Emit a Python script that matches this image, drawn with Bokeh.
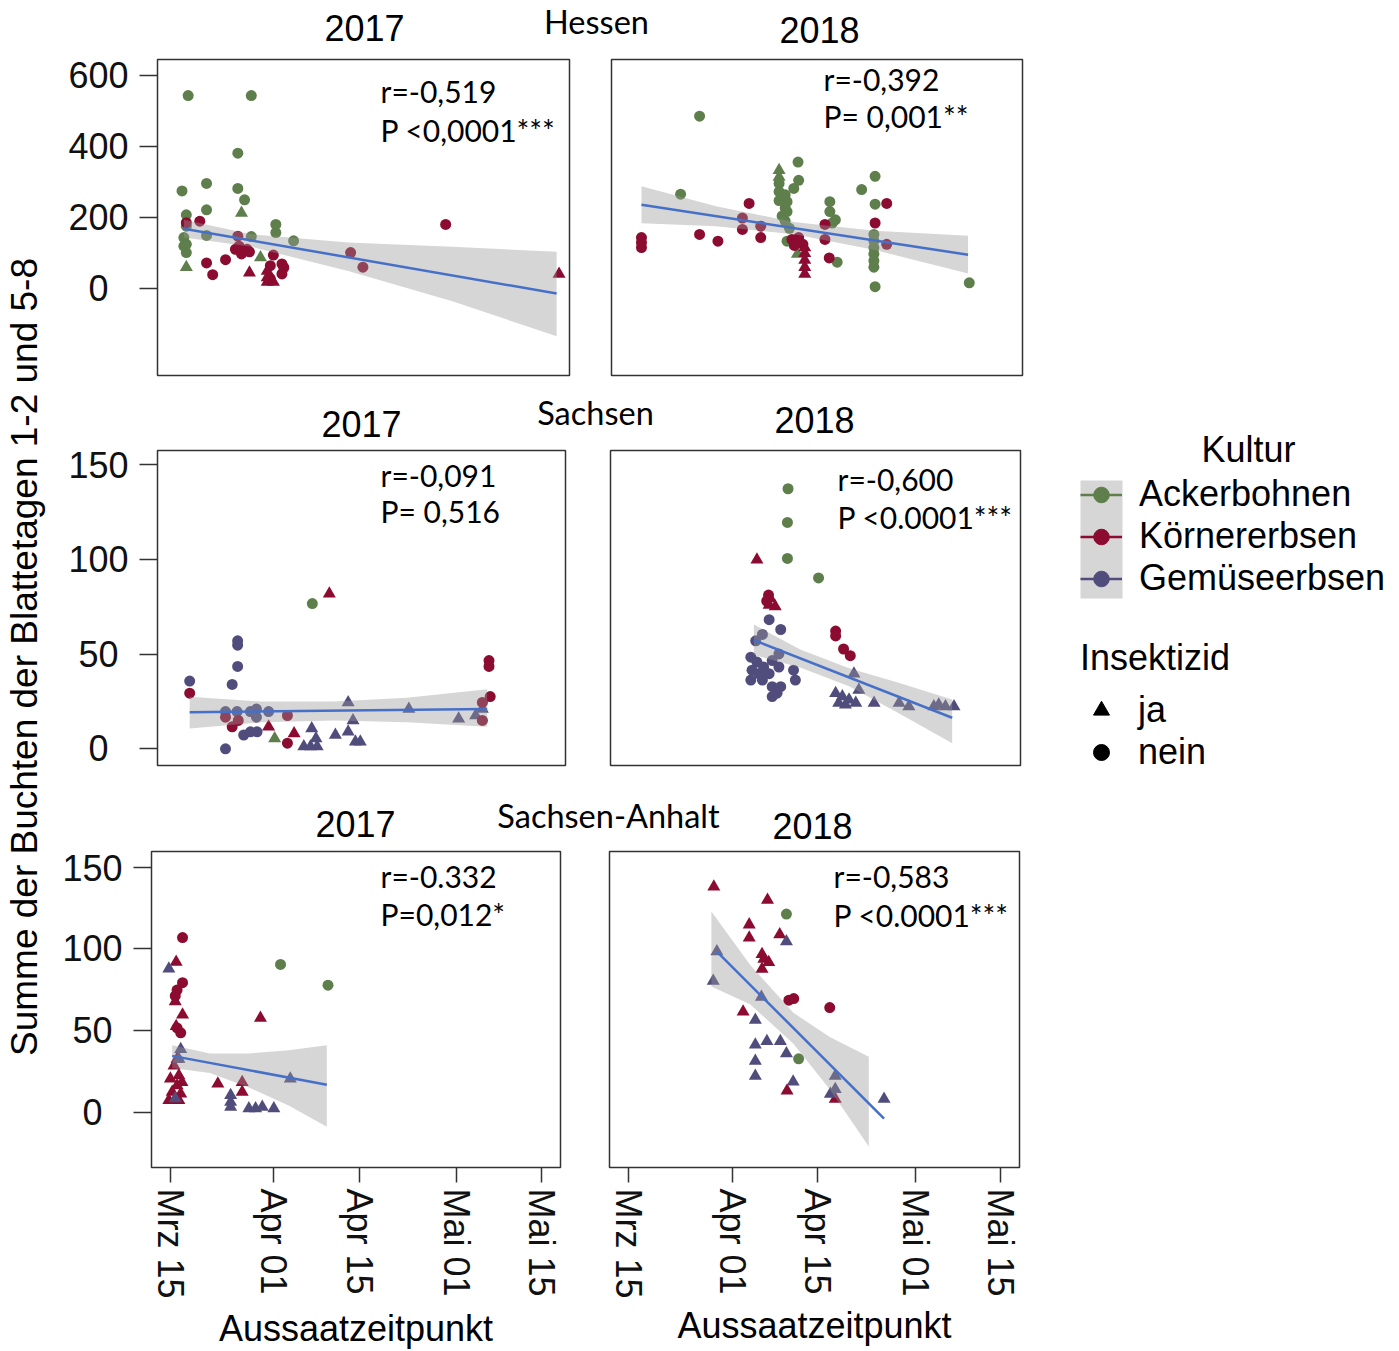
import math
from bokeh.plotting import figure
from bokeh.layouts import row, column
from bokeh.models import Range1d, FixedTicker, Legend, LegendItem, BoxAnnotation, Label, ColumnDataSource
from bokeh.embed import file_html
from bokeh.resources import INLINE

# ---------------- categories / ticks ----------------
kulturen = ["Ackerbohnen", "Körnererbsen", "Gemüseerbsen"]
insektizid = ["ja", "nein"]
x_ticks = [0, 17, 31, 47, 61]                       # days after 15 March
x_tick_labels = ["Mrz 15", "Apr 01", "Apr 15", "Mai 01", "Mai 15"]
y_ticks_hessen = [0, 200, 400, 600]
y_ticks_sachsen = [0, 50, 100, 150]
y_ticks_anhalt = [0, 50, 100, 150]

# ---------------- Hessen 2017 ----------------
he17 = [
    ("Ackerbohnen", "nein",
     [1.9, 12.2, 10.0, 0.9, 4.9, 10.0, 11.1, 4.9, 1.6, 1.6, 1.2, 1.6, 1.6, 16.2, 16.2, 19.1, 12.2, 4.9, 1.2],
     [543, 543, 381, 275, 296, 282, 250, 222, 208, 176, 144, 125, 102, 181, 158, 135, 147, 150, 120]),
    ("Ackerbohnen", "ja", [10.6, 1.6, 13.7], [213, 61, 88]),
    ("Körnererbsen", "nein",
     [3.8, 1.6, 43.9, 4.9, 5.9, 8.0, 10.0, 9.6, 11.5, 10.6, 11.9, 28.4, 30.4, 17.2, 17.2, 17.5, 15.3, 15.3, 15.8, 10.2],
     [190, 186, 181, 73, 40, 82, 148, 111, 111, 98, 104, 102, 61, 70, 42, 60, 65, 29, 95, 120]),
    ("Körnererbsen", "ja", [11.9, 62.4, 14.8, 14.8, 14.8, 15.8], [45, 42, 19, 32, 50, 19]),
]
he17_fit_x = [1.2, 62.0]
he17_fit_y = [168.6, -13.0]
he17_ci_x = [1.2, 12, 28, 45, 62.0]
he17_ci_lo = [144, 119, 50, -35, -133]
he17_ci_hi = [194, 154, 130, 118, 104]
he17_stats = ["r=-0,519", "P <0,0001***"]

# ---------------- Hessen 2018 ----------------
he18 = [
    ("Ackerbohnen", "nein",
     [11.3, 8.2, 27.4, 27.5, 26.7, 24.3, 24.3, 25.3, 25.6, 24.3, 25.3, 25.6, 32.6, 32.6, 33.5, 33.0, 37.8, 40.0,
      40.0, 39.8, 39.8, 39.8, 39.8, 39.8, 39.8, 40.0, 55.4, 25.3, 25.6, 33.8, 24.8, 26.0],
     [485, 266, 356, 305, 282, 296, 273, 264, 245, 248, 227, 217, 245, 217, 194, 185, 279, 316,
      238, 153, 135, 116, 98, 79, 61, 6, 17, 190, 134, 75, 205, 170]),
    ("Ackerbohnen", "ja", [24.3, 24.3, 27.3], [333, 314, 98]),
    ("Körnererbsen", "nein",
     [1.8, 1.8, 1.8, 11.3, 14.3, 19.4, 18.3, 18.3, 21.3, 21.3, 26.4, 27.0, 27.5, 28.2, 26.8, 31.8, 31.8, 32.5,
      40.0, 41.9, 41.9],
     [144, 130, 116, 153, 134, 240, 199, 167, 176, 144, 139, 130, 144, 125, 122, 181, 139, 87,
      185, 240, 125]),
    ("Körnererbsen", "ja", [28.5, 28.5, 28.5, 28.5, 28.5], [116, 100, 81, 61, 42]),
]
he18_fit_x = [1.8, 55.2]
he18_fit_y = [236, 96]
he18_ci_x = [1.8, 14, 27, 40, 55.2]
he18_ci_lo = [184, 176, 153, 109, 43]
he18_ci_hi = [288, 232, 187, 163, 149]
he18_stats = ["r=-0,392", "P= 0,001**"]

# ---------------- Sachsen 2017 ----------------
sa17 = [
    ("Gemüseerbsen", "nein",
     [2.2, 10.1, 10.1, 10.1, 9.2, 8.1, 8.1, 10.0, 12.2, 13.2, 15.2, 11.1, 12.2, 13.3, 13.2],
     [35.8, 57, 54.7, 43.5, 34, 0, 19.7, 19.7, 19.7, 21, 19.7, 7.3, 9, 9, 16.7]),
    ("Gemüseerbsen", "ja",
     [28.3, 29.1, 22.3, 21.0, 22.1, 23.2, 23.0, 26.2, 28.3, 29.5, 30.3, 38.3, 46.5, 49.3, 50.4],
     [24.5, 15, 10.7, 1.2, 1.2, 1.2, 5.5, 7.3, 9, 3.8, 3.8, 21, 15.9, 17.6, 21]),
    ("Körnererbsen", "nein",
     [2.2, 9.2, 8.1, 18.3, 51.5, 51.5, 51.7, 50.4, 50.4, 18.3, 10.2],
     [29.4, 11.6, 16.7, 3, 46.6, 43.5, 27.6, 24.5, 15, 17.6, 15]),
    ("Körnererbsen", "ja", [25.2, 15.2, 19.4], [81.9, 11.6, 8.1]),
    ("Ackerbohnen", "nein", [22.4], [76.7]),
    ("Ackerbohnen", "ja", [16.2], [5.5]),
]
sa17_fit_x = [2.2, 51.2]
sa17_fit_y = [19.3, 21.0]
sa17_ci_x = [2.2, 14, 26, 38, 51.2]
sa17_ci_lo = [10.7, 14, 15, 14, 11.6]
sa17_ci_hi = [27.5, 25, 25, 27, 31.4]
sa17_stats = ["r=-0,091", "P= 0,516"]

# ---------------- Sachsen 2018 ----------------
sa18 = [
    ("Ackerbohnen", "nein", [26.0, 25.9, 25.9, 31.0], [137.3, 119.5, 100.5, 90.2]),
    ("Körnererbsen", "ja", [20.9, 23.1, 22.9, 23.9], [99.8, 79.4, 76, 75.1]),
    ("Körnererbsen", "nein", [22.8, 22.5, 33.8, 33.8, 35.1, 36.2], [81.2, 78, 62.2, 59.6, 52.7, 49.2]),
    ("Gemüseerbsen", "nein",
     [22.9, 24.8, 21.8, 20.7, 19.9, 20.9, 22.0, 23.4, 24.5, 20.1, 21.2, 22.9, 19.9, 21.8, 23.4, 24.2, 23.4,
      24.8, 26.9, 27.2, 24.5],
     [68.2, 63, 60.4, 57, 48.4, 45.8, 43.2, 46.6, 43.2, 41.5, 39.7, 39.7, 36.3, 36.3, 32.8, 29.4, 27.6,
      32.8, 41.5, 36.3, 50.1]),
    ("Gemüseerbsen", "ja",
     [36.8, 33.8, 34.9, 36.0, 37.1, 34.3, 35.4, 40.1, 44.2, 45.8, 49.9, 50.7, 51.8, 53.2, 37.6],
     [39.7, 29.4, 27.6, 25.9, 24.2, 24.2, 23.3, 24.2, 24.2, 22.4, 22.4, 23.3, 22.4, 22.4, 31.1]),
]
sa18_fit_x = [20.4, 52.9]
sa18_fit_y = [57.4, 16.4]
sa18_ci_x = [20.4, 28, 36, 44, 52.9]
sa18_ci_lo = [49.5, 43, 33, 19, 3]
sa18_ci_hi = [65.6, 52.5, 42.5, 35, 26]
sa18_stats = ["r=-0,600", "P <0.0001***"]

# ---------------- Sachsen-Anhalt 2017 ----------------
an17 = [
    ("Körnererbsen", "nein", [2.0, 2.0, 1.1, 0.8, 1.1, 1.7], [107, 79.3, 74.8, 71.2, 51.6, 48.6]),
    ("Körnererbsen", "ja",
     [0.95, 0.8, 2.0, 0.95, 1.1, 0.6, 1.4, 0.0, 1.9, 1.1, 0.3, 1.7, -0.25, 1.4, 14.8, 7.8, 11.8, 11.8],
     [92, 67.8, 59.7, 52.6, 32.5, 28.4, 22.4, 20.4, 18.3, 16.3, 12.3, 11.3, 7.3, 7.3, 57.7, 17.4, 18.3, 12.3]),
    ("Gemüseerbsen", "ja",
     [-0.25, 1.7, 1.4, 0.8, 9.9, 9.9, 9.9, 12.9, 14.0, 15.1, 17.0, 19.7],
     [87.9, 38.5, 32.5, 8.3, 10.3, 6.2, 3.2, 2.2, 2.2, 3.2, 2.2, 20.4]),
    ("Ackerbohnen", "nein", [18.1, 25.9], [90.5, 77.8]),
]
an17_fit_x = [0.3, 25.7]
an17_fit_y = [34.5, 16.8]
an17_ci_x = [0.3, 6.5, 13, 19.5, 25.7]
an17_ci_lo = [27, 24, 15, 4, -9]
an17_ci_hi = [41, 36, 36, 38, 41]
an17_stats = ["r=-0.332", "P=0,012*"]

# ---------------- Sachsen-Anhalt 2018 ----------------
an18 = [
    ("Körnererbsen", "ja",
     [14.0, 22.8, 19.8, 19.8, 24.8, 21.9, 22.2, 23.0, 21.9, 18.8, 26.0, 33.9],
     [138.1, 130, 114.9, 106.9, 108.9, 96.8, 93.8, 91.8, 87.7, 61.5, 13.1, 8.1]),
    ("Körnererbsen", "nein", [26.3, 27.1, 33.0], [68.6, 69.6, 64.1]),
    ("Ackerbohnen", "nein", [25.9, 27.9], [121.4, 32.7]),
    ("Gemüseerbsen", "ja",
     [14.5, 13.9, 25.9, 21.8, 20.8, 20.8, 22.7, 24.9, 20.8, 20.8, 25.9, 27.0, 33.9, 33.1, 33.9, 41.9],
     [98.4, 80.3, 104.5, 70.6, 56.5, 41.3, 43.4, 43.4, 31.3, 22.2, 35.9, 18.6, 22.2, 11.1, 14.1, 8.1]),
]
an18_fit_x = [14.5, 41.9]
an18_fit_y = [98.4, -4.0]
an18_ci_x = [13.6, 20, 27, 33, 39.4]
an18_ci_lo = [77, 66, 42, 14, -21]
an18_ci_hi = [123, 90, 61, 46, 34]
an18_stats = ["r=-0,583", "P <0.0001***"]

# ---------------- styles ----------------
kultur_colors = {"Ackerbohnen": "#5E7F4C", "Körnererbsen": "#8C0B30", "Gemüseerbsen": "#504D7C"}
FIT_COLOR = "#4670C8"
BAND_COLOR = "#999999"
FONT = "Liberation Sans"
FONT2 = "Lato"
XR = (-3.1, 64.1)
YR_HE = (-243.3, 644.2)
YR_SA = (-8.8, 157.5)
YR_AN = (-33.9, 159.7)

LEFT_X0, RIGHT_X0, LEG_X0 = 55, 588, 1060
LEFT_W, RIGHT_W, LEG_W = 533, 472, 339
TOTAL_H = 1351


def mid(baseline, size, font):
    # screen y of the text-box middle for a wanted baseline
    return baseline - (0.36 if font == FONT else 0.39) * size


def pad(t):
    s = str(t)
    return s + "\u00a0" * (3 - len(s))


def clean(p):
    p.xgrid.visible = False
    p.ygrid.visible = False
    p.background_fill_color = "white"
    p.border_fill_color = "white"


def panel(groups, fit_x, fit_y, ci_x, ci_lo, ci_hi, stats, yr, yticks,
          fig_x0, fig_y0, fig_w, fig_h, frame, stats_pos, left_axis, bottom_axis, title_standoff=6):
    fl, ft, fw, fh = frame
    p = figure(width=fig_w, height=fig_h, x_range=Range1d(*XR), y_range=Range1d(*yr),
               toolbar_location=None, output_backend="svg", title=None,
               x_axis_location="below" if bottom_axis else None,
               y_axis_location="left" if left_axis else None,
               min_border_left=fl - fig_x0, min_border_top=ft - fig_y0,
               min_border_right=fig_x0 + fig_w - fl - fw,
               min_border_bottom=fig_y0 + fig_h - ft - fh)
    clean(p)
    p.outline_line_color = "#333333"
    p.outline_line_width = 1.5
    for kultur, ins, d, v in groups:
        tri = ins == "ja"
        p.scatter(x=d, y=v, marker="triangle" if tri else "circle", size=13 if tri else 11,
                  fill_color=kultur_colors[kultur], line_color=None)
    p.varea(x=ci_x, y1=ci_lo, y2=ci_hi, fill_color=BAND_COLOR, fill_alpha=0.4)
    p.line(x=fit_x, y=fit_y, line_color=FIT_COLOR, line_width=2.5)
    ax_abs, b1, b2 = stats_pos
    for txt, b in zip(stats, (b1, b2)):
        sy = mid(b, 30, FONT2)
        x = XR[0] + (ax_abs - fl) / fw * (XR[1] - XR[0])
        y = yr[1] - (sy - ft) / fh * (yr[1] - yr[0])
        p.add_layout(Label(x=x, y=y, text=txt, text_font=FONT2, text_font_size="30px",
                           text_align="left", text_baseline="middle", text_color="black"))
    if left_axis:
        a = p.yaxis[0]
        a.ticker = FixedTicker(ticks=yticks)
        a.major_label_overrides = {t: pad(t) for t in yticks}
        a.axis_line_color = None
        a.major_tick_out = 18
        a.major_tick_in = 0
        a.minor_tick_out = 0
        a.minor_tick_in = 0
        a.major_tick_line_color = "#333333"
        a.major_tick_line_width = 1.5
        a.major_label_standoff = 11
        a.major_label_text_font = FONT
        a.major_label_text_font_size = "36px"
        a.major_label_text_color = "#111111"
    if bottom_axis:
        a = p.xaxis[0]
        a.ticker = FixedTicker(ticks=x_ticks)
        a.major_label_overrides = dict(zip(x_ticks, x_tick_labels))
        a.major_label_orientation = -math.pi / 2
        a.axis_line_color = None
        a.major_tick_out = 15
        a.major_tick_in = 0
        a.minor_tick_out = 0
        a.minor_tick_in = 0
        a.major_tick_line_color = "#333333"
        a.major_tick_line_width = 1.5
        a.major_label_standoff = 6
        a.major_label_text_font = FONT
        a.major_label_text_font_size = "36px"
        a.major_label_text_color = "#111111"
        a.axis_label = "Aussaatzeitpunkt"
        a.axis_label_text_font = FONT
        a.axis_label_text_font_size = "36px"
        a.axis_label_text_font_style = "normal"
        a.axis_label_text_color = "black"
        a.axis_label_standoff = title_standoff
    return p


def header(y0, h, items):
    f = figure(width=LEFT_W + RIGHT_W, height=h, x_range=Range1d(0, LEFT_W + RIGHT_W), y_range=Range1d(0, h),
               toolbar_location=None, output_backend="svg", min_border=0, title=None,
               x_axis_location=None, y_axis_location=None)
    clean(f)
    f.outline_line_color = None
    for text, xa, base, font, size in items:
        sy = mid(base, size, font)
        f.add_layout(Label(x=xa - LEFT_X0, y=y0 + h - sy, text=text, text_font=font, text_font_size=f"{size}px",
                           text_align="center", text_baseline="middle", text_color="black"))
    return f


# ---------------- rows ----------------
H1Y, H1H = 0, 51
R1, R1H = 51, 341
H2Y, H2H = 392, 52
R2, R2H = 444, 346
H3Y, H3H = 790, 57
R3, R3H = 847, 504

p11 = panel(he17, he17_fit_x, he17_fit_y, he17_ci_x, he17_ci_lo, he17_ci_hi, he17_stats, YR_HE, y_ticks_hessen,
            LEFT_X0, R1, LEFT_W, R1H, (157, 54, 412, 321), (380, 98, 137), True, False)
p12 = panel(he18, he18_fit_x, he18_fit_y, he18_ci_x, he18_ci_lo, he18_ci_hi, he18_stats, YR_HE, y_ticks_hessen,
            RIGHT_X0, R1, RIGHT_W, R1H, (611, 59, 411, 319), (823, 90, 128), False, False)
p21 = panel(sa17, sa17_fit_x, sa17_fit_y, sa17_ci_x, sa17_ci_lo, sa17_ci_hi, sa17_stats, YR_SA, y_ticks_sachsen,
            LEFT_X0, R2, LEFT_W, R2H, (157, 450, 408, 321), (380, 487, 523), True, False)
p22 = panel(sa18, sa18_fit_x, sa18_fit_y, sa18_ci_x, sa18_ci_lo, sa18_ci_hi, sa18_stats, YR_SA, y_ticks_sachsen,
            RIGHT_X0, R2, RIGHT_W, R2H, (610, 446, 410, 319), (837, 487, 525), False, False)
p31 = panel(an17, an17_fit_x, an17_fit_y, an17_ci_x, an17_ci_lo, an17_ci_hi, an17_stats, YR_AN, y_ticks_anhalt,
            LEFT_X0, R3, LEFT_W, R3H, (151, 848, 409, 320), (380, 885, 923), True, True, title_standoff=6)
p32 = panel(an18, an18_fit_x, an18_fit_y, an18_ci_x, an18_ci_lo, an18_ci_hi, an18_stats, YR_AN, y_ticks_anhalt,
            RIGHT_X0, R3, RIGHT_W, R3H, (609, 851, 410, 320), (833, 888, 927), False, True, title_standoff=3)

h1 = header(H1Y, H1H, [("2017", 364, 40, FONT, 36), ("Hessen", 596, 34, FONT2, 32.5),
                       ("2018", 819, 42, FONT, 36)])
h2 = header(H2Y, H2H, [("2017", 361, 436, FONT, 36), ("Sachsen", 595, 425, FONT2, 32.5),
                       ("2018", 814, 432, FONT, 36)])
h3 = header(H3Y, H3H, [("2017", 355, 836, FONT, 36), ("Sachsen-Anhalt", 608, 828, FONT2, 32.5),
                       ("2018", 812, 838, FONT, 36)])

grid = column(h1, row(p11, p12), h2, row(p21, p22), h3, row(p31, p32))

# ---------------- y label ----------------
ylab = figure(width=LEFT_X0, height=TOTAL_H, x_range=Range1d(0, LEFT_X0),
              y_range=Range1d(0, TOTAL_H), toolbar_location=None, output_backend="svg", min_border=0, title=None,
              x_axis_location=None, y_axis_location=None)
clean(ylab)
ylab.outline_line_color = None
ylab.add_layout(Label(x=mid(37, 37, FONT), y=TOTAL_H - 656.5, text="Summe der Buchten der Blattetagen 1-2 und 5-8",
                      angle=math.pi / 2, text_align="center", text_baseline="middle",
                      text_font=FONT, text_font_size="37px", text_color="black"))

# ---------------- legend ----------------
leg = figure(width=LEG_W, height=TOTAL_H, x_range=Range1d(0, LEG_W), y_range=Range1d(0, TOTAL_H),
             toolbar_location=None, output_backend="svg", min_border=0, title=None,
             x_axis_location=None, y_axis_location=None)
clean(leg)
leg.outline_line_color = None


def ly(a):
    return TOTAL_H - a


leg.add_layout(BoxAnnotation(left=1080 - LEG_X0, right=1122 - LEG_X0, top=ly(480), bottom=ly(598),
                             fill_color=BAND_COLOR, fill_alpha=0.4, line_color=None))
leg.add_layout(Label(x=1248 - LEG_X0, y=ly(mid(462, 36, FONT)), text="Kultur", text_align="center",
                     text_baseline="middle", text_font=FONT, text_font_size="36px", text_color="black"))
proxy = ColumnDataSource(data=dict(x=[float("nan")], y=[float("nan")]))
items1 = []
for k in kulturen:
    rl = leg.line(x="x", y="y", source=proxy, line_color=kultur_colors[k], line_width=2.5)
    rs = leg.scatter(x="x", y="y", source=proxy, marker="circle", size=8,
                     fill_color=kultur_colors[k], line_color=kultur_colors[k])
    items1.append(LegendItem(label=k, renderers=[rl, rs]))
leg1 = Legend(items=items1, location=(1080 - LEG_X0, ly(599)), padding=0, margin=0, spacing=0,
              glyph_width=42, glyph_height=39, label_height=39, label_standoff=17,
              label_text_font=FONT, label_text_font_size="36px", label_text_color="black",
              border_line_color=None, background_fill_alpha=0)
leg.add_layout(leg1)

r_ja = leg.scatter(x="x", y="y", source=proxy, marker="triangle", size=10, fill_color="black", line_color="black")
r_nein = leg.scatter(x="x", y="y", source=proxy, marker="circle", size=9, fill_color="black", line_color="black")
leg2 = Legend(items=[LegendItem(label=insektizid[0], renderers=[r_ja]),
                     LegendItem(label=insektizid[1], renderers=[r_nein])],
              title="Insektizid", title_text_font=FONT, title_text_font_size="36px",
              title_text_font_style="normal", title_text_color="black", title_standoff=10,
              location=(1080 - LEG_X0, ly(773)), padding=0, margin=0, spacing=0,
              glyph_width=42, glyph_height=40, label_height=40, label_standoff=16,
              label_text_font=FONT, label_text_font_size="36px", label_text_color="black",
              border_line_color=None, background_fill_alpha=0)
leg.add_layout(leg2)

layout = row(ylab, grid, leg)

open("out.html", "w", encoding="utf-8").write(file_html(layout, INLINE))
